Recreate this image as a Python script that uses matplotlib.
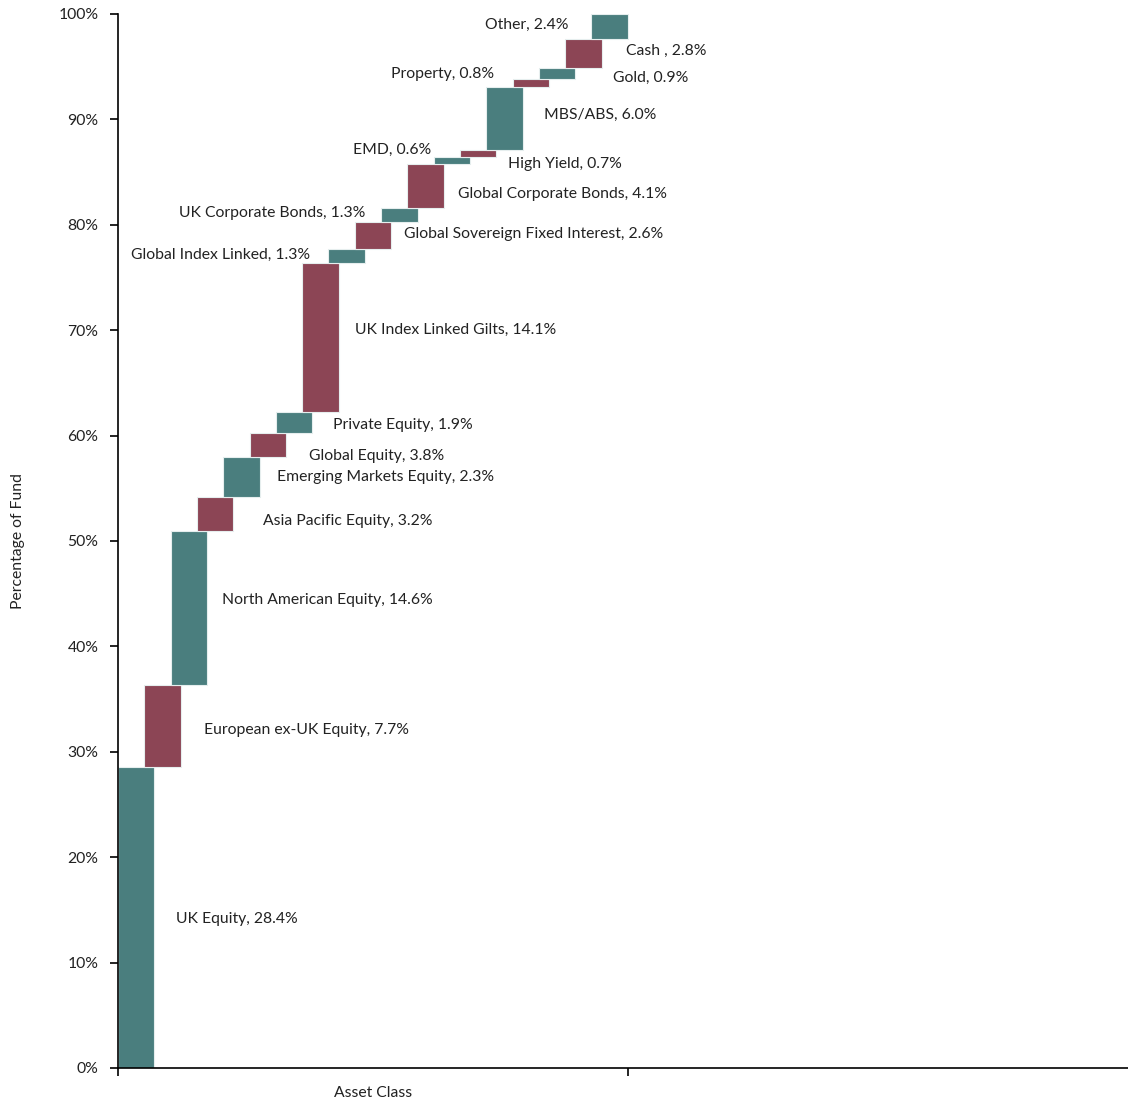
import matplotlib
matplotlib.use("Agg")
import matplotlib.pyplot as plt
from matplotlib.ticker import PercentFormatter

plt.rcParams['font.family'] = ['Lato', 'DejaVu Sans']

assets = ["UK Equity", "European ex-UK Equity", "North American Equity",
          "Asia Pacific Equity", "Global Equity", "Emerging Markets Equity",
          "Private Equity", "UK Index Linked Gilts", "Global Index Linked",
          "Global Sovereign Fixed Interest", "UK Corporate Bonds",
          "Global Corporate Bonds", "EMD", "High Yield", "MBS/ABS",
          "Property", "Gold", "Cash ", "Other"]
# values printed in the labels
weights = [28.4, 7.7, 14.6, 3.2, 3.8, 2.3, 1.9, 14.1, 1.3, 2.6, 1.3,
           4.1, 0.6, 0.7, 6.0, 0.8, 0.9, 2.8, 2.4]
# bar sizes as drawn (unrounded, they stack up to 100%)
bar_sizes = [28.56, 7.78, 14.61, 3.22, 3.80, 2.28, 1.99, 14.14, 1.32, 2.57,
             1.32, 4.18, 0.66, 0.67, 5.97, 0.76, 1.05, 2.75, 2.37]

# where each data label sits (left edge x, centre y) in data units
label_pos = [(0.114, 14.1), (0.169, 32.1), (0.204, 44.4), (0.284, 51.9),
             (0.375, 58.1), (0.312, 56.1), (0.422, 61.0), (0.465, 70.0),
             (0.025, 77.1), (0.561, 79.1), (0.120, 81.1), (0.667, 82.9),
             (0.461, 87.1), (0.765, 85.8), (0.835, 90.4), (0.535, 94.3),
             (0.971, 93.9), (0.996, 96.5), (0.720, 99.0)]

teal = "#4a7e7e"
maroon = "#8c4555"

fig = plt.figure(figsize=(11.28, 11.0), dpi=100)
ax = fig.add_axes([0.1046, 0.0291, 0.8954, 0.9582])

step = 26.3 / 510
width = 36.5 / 510
base = 0.0
for i, h in enumerate(bar_sizes):
    col = teal if i % 2 == 0 else maroon
    ax.bar(i * step, h, bottom=base, width=width, align='edge',
           color=col, edgecolor='#e6eeee', linewidth=0.8, zorder=2)
    base += h

for name, w, (lx, ly) in zip(assets, weights, label_pos):
    ax.text(lx, ly, "%s, %.1f%%" % (name, w), ha='left', va='center',
            fontsize=11.3, color='#222222')

ax.set_xlim(0, 1.98)
ax.set_ylim(0, 100)
ax.set_yticks(range(0, 101, 10))
ax.yaxis.set_major_formatter(PercentFormatter(decimals=0))
ax.set_xticks([0, 1])
ax.set_xticklabels([])
ax.text(0.5, -2.4, "Asset Class", ha='center', va='center', fontsize=11.3,
        color='#222222')
ax.set_ylabel("Percentage of Fund", fontsize=11.3, color='#222222',
              labelpad=24)

for s in ['top', 'right']:
    ax.spines[s].set_visible(False)
ax.spines['left'].set_linewidth(1.2)
ax.spines['bottom'].set_linewidth(1.2)
ax.tick_params(axis='y', direction='out', length=6, width=1.2,
               labelsize=11.3, labelcolor='#222222', pad=8)
ax.tick_params(axis='x', direction='out', length=6, width=1.2)

fig.savefig("out.png", dpi=100)
